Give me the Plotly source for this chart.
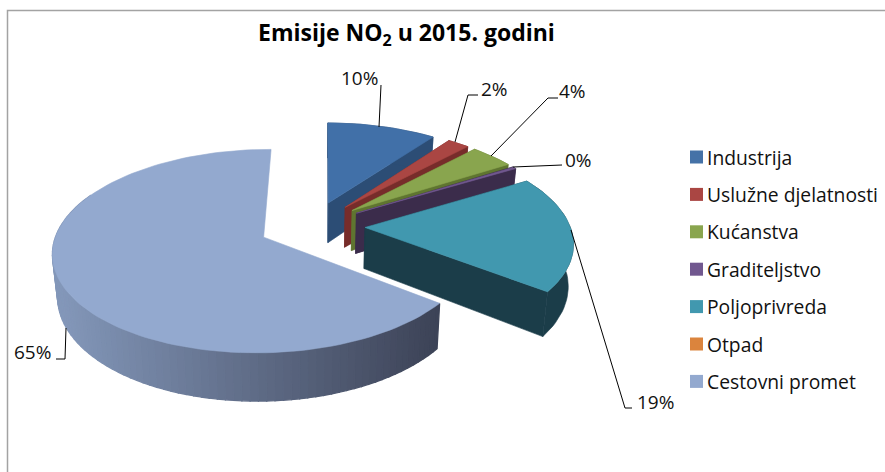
import math
import plotly.graph_objects as go

categories = ["Industrija", "Uslužne djelatnosti", "Kućanstva", "Graditeljstvo",
              "Poljoprivreda", "Otpad", "Cestovni promet"]
values = [10.0, 2.0, 4.0, 0.4, 19.0, 0.0, 65.0]
percent_labels = ["10%", "2%", "4%", "0%", "19%", None, "65%"]
top_colors = ["#4170A8", "#AA4643", "#89A54E", "#71588F", "#4198AF", "#DB843D", "#93A9CF"]
wall_colors = ["#2C4D75", "#772C2A", "#5F7530", "#3B2C4B", "#1B3D49", "#A65A1F", None]
legend_colors = ["#4572A7", "#AA4643", "#89A54E", "#71588F", "#4198AF", "#DB843D", "#93A9CF"]

W, H = 885, 472
CX, CY = 312.0, 226.0   # pie centre on the page
RADIUS, EXPLODE, TILT, PERSP, DEPTH = 205.0, 53.0, 0.472, 0.00066, 41.0
START_BEARING = 0.5
BOTTOM_SHRINK = 0.98


def project(X, Z, bottom=False):
    s = 1.0 / (1.0 - PERSP * Z)
    x = X * s
    y = CY + TILT * Z * s
    if bottom:
        x *= BOTTOM_SHRINK
        y += DEPTH * s
    return CX + x, y


def world(b_mid, bearing, r):
    m, a = math.radians(b_mid), math.radians(bearing)
    return (EXPLODE * math.sin(m) + r * math.sin(a),
            -(EXPLODE * math.cos(m) + r * math.cos(a)))


def lerp_color(c0, c1, t):
    t = max(0.0, min(1.0, t))
    return "rgb(%d,%d,%d)" % tuple(round(a + (b - a) * t) for a, b in zip(c0, c1))


fig = go.Figure()
total = sum(values)


def poly(pts, color, lw=0.6):
    fig.add_trace(go.Scatter(
        x=[p[0] for p in pts] + [pts[0][0]], y=[p[1] for p in pts] + [pts[0][1]],
        mode="lines", fill="toself", fillcolor=color,
        line=dict(color=color, width=lw), hoverinfo="skip", showlegend=False))


angle = START_BEARING
for i, v in enumerate(values):
    sweep = 360.0 * v / total
    if v == 0:
        continue
    b0, b1 = angle, angle + sweep
    mid = (b0 + b1) / 2
    n = max(4, int(sweep / 2))
    bearings = [b0 + (b1 - b0) * k / n for k in range(n + 1)]
    apex = world(mid, mid, 0)
    rim = [world(mid, b, RADIUS) for b in bearings]
    # Radial walls.
    if wall_colors[i]:
        for edge in (rim[0], rim[-1]):
            poly([project(*apex), project(*edge), project(*edge, True), project(*apex, True)],
                 wall_colors[i])
    # Outer wall.
    if wall_colors[i]:
        tops = [project(*r) for r in rim]
        bots = [project(*r, True) for r in rim]
        poly(tops + bots[::-1], wall_colors[i])
    else:
        for k in range(n):
            a, b = rim[k], rim[k + 1]
            pa, pb = project(*a), project(*b)
            if max(pa[1], pb[1]) < project(*apex)[1] - 40:
                continue
            t = ((pa[0] + pb[0]) / 2 - 60) / 380.0
            col = lerp_color((131, 151, 185), (60, 66, 86), t)
            poly([pa, pb, project(*b, True), project(*a, True)], col, lw=1.3)
    # Top face.
    poly([project(*apex)] + [project(*r) for r in rim], top_colors[i])
    angle = b1

shapes = [dict(type="rect", xref="x", yref="y", x0=7.5, y0=10.5, x1=890, y1=480,
               line=dict(color="#A3A3A3", width=1.5), fillcolor="rgba(0,0,0,0)", layer="below")]

# Leader lines and their labels: text position then path of the leader.
leaders = {
    0: ((359, 78), [(379, 127), (381, 85)]),
    1: ((494, 89), [(455, 142), (468, 95), (478, 95)]),
    2: ((572, 91), [(491, 156), (548, 98), (558, 98)]),
    3: ((578, 160), [(513, 167), (562, 165)]),
    4: ((655, 402), [(571, 230), (625, 408), (632, 408)]),
    6: ((32, 352), [(66, 328), (65, 359), (56, 359)]),
}
annotations = []
FONT = "Open Sans"
for i, ((tx, ty), path) in leaders.items():
    d = "M" + " L".join(f"{x},{y}" for x, y in path)
    shapes.append(dict(type="path", path=d, xref="x", yref="y", line=dict(color="#000", width=1)))
    annotations.append(dict(x=tx, y=ty, xref="x", yref="y", text=percent_labels[i], showarrow=False,
                            font=dict(family=FONT, size=19, color="#111")))

# Legend.
for i, name in enumerate(categories):
    yc = 157.0 + i * 37.4
    shapes.append(dict(type="rect", xref="x", yref="y", x0=690, x1=703, y0=yc - 6.5, y1=yc + 6.5,
                       fillcolor=legend_colors[i], line=dict(width=0)))
    annotations.append(dict(x=705, y=yc, xref="x", yref="y", text=name, showarrow=False, xanchor="left",
                            font=dict(family=FONT, size=19.3, color="#111")))

annotations.append(dict(x=406.5, y=33, xref="x", yref="y", text="<b>Emisije NO<sub>2</sub> u 2015. godini</b>",
                        showarrow=False, font=dict(family=FONT, size=23, color="#000")))

fig.update_layout(
    width=W, height=H, autosize=False, margin=dict(l=0, r=0, t=0, b=0),
    paper_bgcolor="white", plot_bgcolor="white", showlegend=False,
    xaxis=dict(range=[0, W], visible=False, fixedrange=True),
    yaxis=dict(range=[H, 0], visible=False, fixedrange=True),
    shapes=shapes, annotations=annotations,
)
fig.write_html("out.html", config={"displayModeBar": False},
               post_script="document.body.style.margin='0';document.body.style.overflow='hidden';")
